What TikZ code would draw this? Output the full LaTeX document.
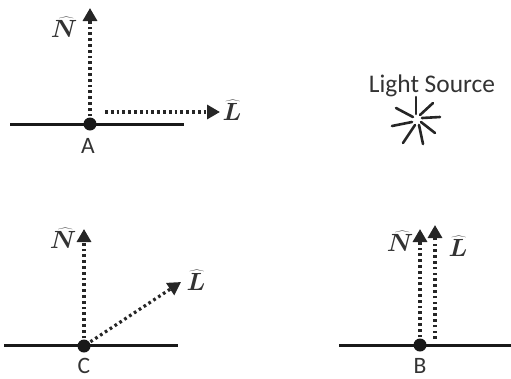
\documentclass[tikz,border=0pt]{standalone}
\usepackage{fontspec}
\setmainfont{Carlito}
\usetikzlibrary{arrows.meta}
\tikzset{
    surface/.style={line width=2.9pt, draw=black!90},
    ray/.style={line width=3.2pt, dash pattern=on 2.7pt off 3.1pt, black!85, -{Triangle[length=13pt, width=14pt]}, shorten <=1pt},
    hitdot/.style={circle, fill=black!90, inner sep=0pt, minimum size=13pt},
    pointlabel/.style={font=\fontsize{23.5}{26}\selectfont, text=black!80},
    veclabel/.style={font=\fontsize{25}{28}\selectfont\boldmath, text=black!80},
    sunray/.style={line width=2.6pt, black!85, line cap=round}
}
\begin{document}
\begin{tikzpicture}[x=1pt, y=-1pt]
    \useasboundingbox (0,0) rectangle (511,378);

    % Point A: light along the surface
    \coordinate (aleft) at (10,124.5);
    \coordinate (aright) at (184,124.5);
    \draw[surface] (aleft) -- (aright);
    \node[hitdot] (ptA) at (90,124) {};
    \node[pointlabel] (labA) at (88,146) {A};
    \coordinate (aN) at (90,8);
    \coordinate (aLstart) at (104,112);
    \coordinate (aL) at (220,112);
    \draw[ray] (ptA) -- (aN);
    \draw[ray] (aLstart) -- (aL);
    \node[veclabel] (aNlab) at (64,27) {$\widehat{N}$};
    \node[veclabel] (aLlab) at (232,110) {$\widehat{L}$};

    % Light source
    \node[font=\fontsize{25.4}{28}\selectfont, text=black!80] (source) at (432,86) {Light Source};
    \coordinate (star) at (417,120);
    \foreach \x/\y/\u/\v in {-1/-6/-1/-23, 3/-5/16/-17, 5/-2/23/-3, 4/2/18/13,
        2/5/6/24, -2/5/-14/23, -5/2/-25/6, -4/-3/-21/-12}
        \draw[sunray] ([shift={(\x,\y)}]star) -- ([shift={(\u,\v)}]star);

    % Point C: oblique light
    \coordinate (cleft) at (4,345.5);
    \coordinate (cright) at (178,345.5);
    \draw[surface] (cleft) -- (cright);
    \node[hitdot] (ptC) at (84,346) {};
    \node[pointlabel] (labC) at (84,365.5) {C};
    \coordinate (cN) at (84,229);
    \coordinate (cL) at (181,282);
    \draw[ray] (ptC) -- (cN);
    \draw[ray] (ptC) -- (cL);
    \node[veclabel] (cNlab) at (63,238) {$\widehat{N}$};
    \node[veclabel] (cLlab) at (196,280) {$\widehat{L}$};

    % Point B: light along the normal
    \coordinate (bleft) at (339,345.5);
    \coordinate (bright) at (511,345.5);
    \draw[surface] (bleft) -- (bright);
    \node[hitdot] (ptB) at (420,345) {};
    \node[pointlabel] (labB) at (420,365.5) {B};
    \coordinate (bN) at (420,229);
    \coordinate (bLstart) at (435,340);
    \coordinate (bL) at (435,225);
    \draw[ray] (ptB) -- (bN);
    \draw[ray] (bLstart) -- (bL);
    \node[veclabel] (bNlab) at (400,241) {$\widehat{N}$};
    \node[veclabel] (bLlab) at (458,246) {$\widehat{L}$};
\end{tikzpicture}
\end{document}
